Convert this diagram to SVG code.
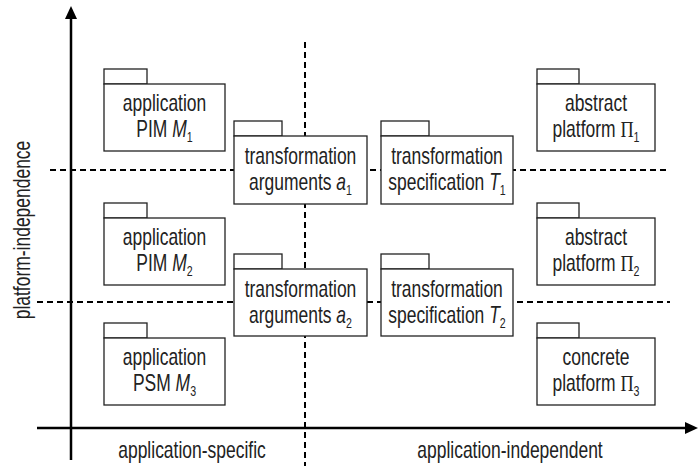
<svg xmlns="http://www.w3.org/2000/svg" width="698" height="466" viewBox="0 0 698 466">
  <style>
    .tab, .body { fill: #fff; stroke: #222; stroke-width: 1.3; }
    .dash { fill: none; stroke: #000; stroke-width: 2; stroke-dasharray: 6 4; }
    .axis { fill: none; stroke: #000; stroke-width: 2.5; }
    .head { fill: #000; }
    text { font-family: "Liberation Sans", Arial, sans-serif; font-size: 23px; fill: #222; }
    .c { text-anchor: middle; }
    .i { font-style: italic; }
    .sub { font-size: 14px; }
    .pi { font-family: "Liberation Serif", "Times New Roman", serif; font-size: 24px; }
  </style>

  <!-- axes and dashed region boundaries -->
  <g id="connectors">
    <line class="dash" x1="50" y1="170" x2="670" y2="170"/>
    <line class="dash" x1="37" y1="302" x2="670" y2="302"/>
    <line class="dash" x1="305" y1="42" x2="305" y2="466"/>
    <line class="axis" x1="71" y1="18" x2="71" y2="460"/>
    <polygon class="head" points="71,6 65,19 77,19"/>
    <line class="axis" x1="37" y1="428" x2="687" y2="428"/>
    <polygon class="head" points="698,428 685,422 685,434"/>
  </g>

  <!-- application models -->
  <g id="pim-m1">
    <rect class="tab" x="104" y="69" width="43" height="15"/>
    <rect class="body" x="104" y="84" width="121" height="67"/>
    <text class="c" transform="translate(164.5 111) scale(0.76 1)">application</text>
    <text class="c" transform="translate(164.5 136.5) scale(0.76 1)">PIM <tspan class="i">M</tspan><tspan class="sub" dy="5">1</tspan></text>
  </g>
  <g id="pim-m2">
    <rect class="tab" x="104" y="203" width="43" height="15"/>
    <rect class="body" x="104" y="218" width="121" height="67"/>
    <text class="c" transform="translate(164.5 245) scale(0.76 1)">application</text>
    <text class="c" transform="translate(164.5 270.5) scale(0.76 1)">PIM <tspan class="i">M</tspan><tspan class="sub" dy="5">2</tspan></text>
  </g>
  <g id="psm-m3">
    <rect class="tab" x="104" y="323" width="43" height="15"/>
    <rect class="body" x="104" y="338" width="121" height="67"/>
    <text class="c" transform="translate(164.5 365) scale(0.76 1)">application</text>
    <text class="c" transform="translate(164.5 390.5) scale(0.76 1)">PSM <tspan class="i">M</tspan><tspan class="sub" dy="5">3</tspan></text>
  </g>

  <!-- transformation arguments -->
  <g id="args-a1">
    <rect class="tab" x="234" y="121" width="48" height="15"/>
    <rect class="body" x="234" y="136" width="133" height="68"/>
    <text class="c" transform="translate(300.5 164) scale(0.76 1)">transformation</text>
    <text class="c" transform="translate(300.5 189.5) scale(0.76 1)">arguments <tspan class="i">a</tspan><tspan class="sub" dy="5">1</tspan></text>
  </g>
  <g id="args-a2">
    <rect class="tab" x="234" y="254" width="48" height="15"/>
    <rect class="body" x="234" y="269" width="133" height="67"/>
    <text class="c" transform="translate(300.5 297) scale(0.76 1)">transformation</text>
    <text class="c" transform="translate(300.5 322.5) scale(0.76 1)">arguments <tspan class="i">a</tspan><tspan class="sub" dy="5">2</tspan></text>
  </g>

  <!-- transformation specifications -->
  <g id="spec-t1">
    <rect class="tab" x="381" y="121" width="48" height="15"/>
    <rect class="body" x="381" y="136" width="132" height="68"/>
    <text class="c" transform="translate(447 164) scale(0.76 1)">transformation</text>
    <text class="c" transform="translate(447 189.5) scale(0.76 1)">specification <tspan class="i">T</tspan><tspan class="sub" dy="5">1</tspan></text>
  </g>
  <g id="spec-t2">
    <rect class="tab" x="381" y="254" width="48" height="15"/>
    <rect class="body" x="381" y="269" width="132" height="67"/>
    <text class="c" transform="translate(447 297) scale(0.76 1)">transformation</text>
    <text class="c" transform="translate(447 322.5) scale(0.76 1)">specification <tspan class="i">T</tspan><tspan class="sub" dy="5">2</tspan></text>
  </g>

  <!-- platforms -->
  <g id="platform-p1">
    <rect class="tab" x="537" y="69" width="42" height="15"/>
    <rect class="body" x="537" y="84" width="118" height="67"/>
    <text class="c" transform="translate(596 111) scale(0.76 1)">abstract</text>
    <text class="c" transform="translate(596 136.5) scale(0.76 1)">platform <tspan class="pi">Π</tspan><tspan class="sub" dy="5">1</tspan></text>
  </g>
  <g id="platform-p2">
    <rect class="tab" x="537" y="203" width="42" height="15"/>
    <rect class="body" x="537" y="218" width="118" height="67"/>
    <text class="c" transform="translate(596 245) scale(0.76 1)">abstract</text>
    <text class="c" transform="translate(596 270.5) scale(0.76 1)">platform <tspan class="pi">Π</tspan><tspan class="sub" dy="5">2</tspan></text>
  </g>
  <g id="platform-p3">
    <rect class="tab" x="537" y="323" width="42" height="15"/>
    <rect class="body" x="537" y="338" width="118" height="67"/>
    <text class="c" transform="translate(596 365) scale(0.76 1)">concrete</text>
    <text class="c" transform="translate(596 390.5) scale(0.76 1)">platform <tspan class="pi">Π</tspan><tspan class="sub" dy="5">3</tspan></text>
  </g>

  <!-- axis labels -->
  <g id="axis-labels">
    <text class="c" transform="translate(30 230) rotate(-90) scale(0.76 1)">platform-independence</text>
    <text class="c" transform="translate(192 458) scale(0.76 1)">application-specific</text>
    <text class="c" transform="translate(510 458) scale(0.76 1)">application-independent</text>
  </g>
</svg>
